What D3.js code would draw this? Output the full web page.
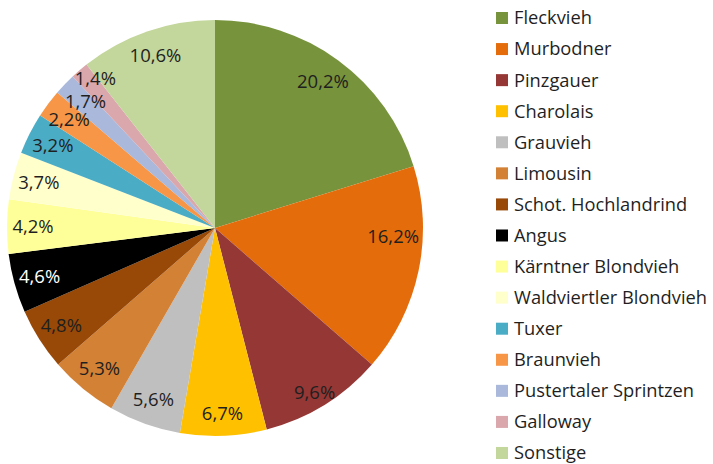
<!DOCTYPE html>
<html>
<head>
<meta charset="utf-8">
<script src="https://cdn.jsdelivr.net/npm/d3@7"></script>
<style>
  body { margin: 0; background: #fff; }
  text { font-family: "Open Sans", sans-serif; }
</style>
</head>
<body>
<div id="chart"></div>
<script>
// Rassen und Anteile (%)
var breeds = ["Fleckvieh", "Murbodner", "Pinzgauer", "Charolais", "Grauvieh", "Limousin",
  "Schot. Hochlandrind", "Angus", "Kärntner Blondvieh", "Waldviertler Blondvieh", "Tuxer",
  "Braunvieh", "Pustertaler Sprintzen", "Galloway", "Sonstige"];
var shares = [20.2, 16.2, 9.6, 6.7, 5.6, 5.3, 4.8, 4.6, 4.2, 3.7, 3.2, 2.2, 1.7, 1.4, 10.6];
var colors = ["#77933C", "#E46C0A", "#953735", "#FFC000", "#BFBFBF", "#D38135",
  "#984807", "#000000", "#FFFF99", "#FFFFCC", "#4BACC6",
  "#F79646", "#A9B8DB", "#D9A7AC", "#C3D69B"];

var width = 713, height = 464;
var cx = 215, cy = 228, radius = 208;

var svg = d3.select("#chart")
    .append("svg")
    .attr("width", width)
    .attr("height", height);

var g = svg.append("g")
    .attr("transform", "translate(" + cx + "," + cy + ")");

var data = breeds.map(function (b, i) { return { name: b, value: shares[i], color: colors[i] }; });

var pie = d3.pie()
    .sort(null)
    .value(function (d) { return d.value; });

var arc = d3.arc().innerRadius(0).outerRadius(radius);

var arcs = pie(data);

g.selectAll("path")
    .data(arcs)
    .enter().append("path")
    .attr("d", arc)
    .attr("fill", function (d) { return d.data.color; });

// label distance from centre, a few are nudged like Excel's best fit
var labelR = 182;
var nudge = { "Murbodner": [0, -29], "Pinzgauer": [4, 10], "Galloway": [-1, -11],
  "Pustertaler Sprintzen": [2, -1], "Charolais": [0, 4] };

g.selectAll("text.lbl")
    .data(arcs)
    .enter().append("text")
    .attr("class", "lbl")
    .attr("transform", function (d) {
        var a = (d.startAngle + d.endAngle) / 2;
        var n = nudge[d.data.name] || [0, 0];
        var x = Math.sin(a) * labelR + n[0];
        var y = -Math.cos(a) * labelR + n[1];
        return "translate(" + x + "," + y + ")";
    })
    .attr("text-anchor", "middle")
    .attr("dy", "0.35em")
    .style("font-size", "18.5px")
    .style("fill", function (d) { return d.data.name === "Angus" ? "#fff" : "#1f1f1f"; })
    .text(function (d) { return d3.format(".1f")(d.data.value).replace(".", ",") + "%"; });

// Legende
var legend = svg.append("g")
    .attr("transform", "translate(496,18)");

var rowH = 31.07;

var item = legend.selectAll("g")
    .data(data)
    .enter().append("g")
    .attr("transform", function (d, i) { return "translate(0," + (i * rowH) + ")"; });

item.append("rect")
    .attr("x", 0)
    .attr("y", -6)
    .attr("width", 12)
    .attr("height", 12)
    .attr("fill", function (d) { return d.color; });

item.append("text")
    .attr("x", 18)
    .attr("dy", "0.35em")
    .style("font-size", "18.3px")
    .style("fill", "#1f1f1f")
    .text(function (d) { return d.name; });
</script>
</body>
</html>
